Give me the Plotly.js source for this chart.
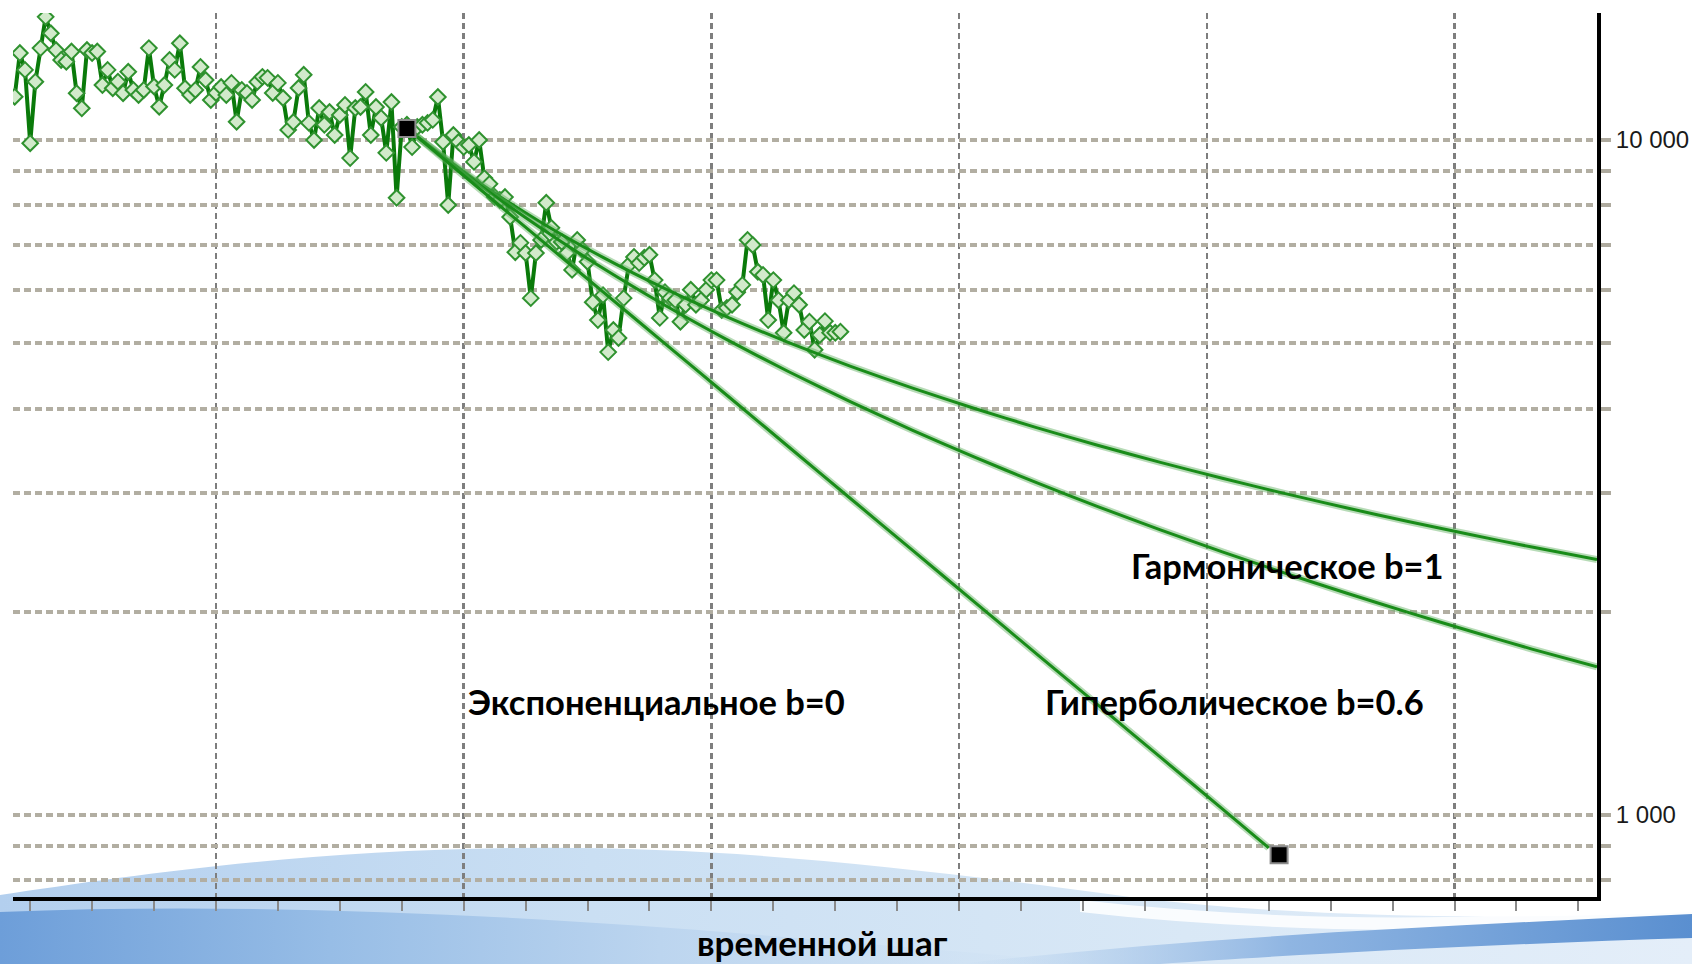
<!DOCTYPE html>
<html>
<head>
<meta charset="utf-8">
<script src="https://cdn.plot.ly/plotly-3.0.1.min.js"></script>
<style>
  html, body { margin: 0; padding: 0; background: #ffffff; }
  #wrap { position: relative; width: 1692px; height: 964px; overflow: hidden; background: #ffffff; }
  #bg { position: absolute; left: 0; top: 0; }
  #chart { position: absolute; left: 0; top: 0; width: 1692px; height: 964px; }
</style>
</head>
<body>
<div id="wrap">
  <!-- decorative slide waves behind the chart -->
  <svg id="bg" width="1692" height="964" viewBox="0 0 1692 964">
    <defs>
      <linearGradient id="crest" x1="0" y1="0" x2="1" y2="0">
        <stop offset="0" stop-color="#b3cfee"/>
        <stop offset="0.35" stop-color="#cadff3"/>
        <stop offset="0.7" stop-color="#d9e8f6"/>
        <stop offset="1" stop-color="#e4eef9"/>
      </linearGradient>
      <linearGradient id="base" x1="0" y1="0" x2="1" y2="0">
        <stop offset="0" stop-color="#6d9ed9"/>
        <stop offset="0.3" stop-color="#97bde6"/>
        <stop offset="0.6" stop-color="#bcd5ef"/>
        <stop offset="1" stop-color="#cfe1f3" stop-opacity="0"/>
      </linearGradient>
      <linearGradient id="band" x1="0" y1="0" x2="1" y2="0">
        <stop offset="0" stop-color="#a9c8ea" stop-opacity="0"/>
        <stop offset="0.45" stop-color="#8fb5e2"/>
        <stop offset="1" stop-color="#5a8fd0"/>
      </linearGradient>
    </defs>
    <path d="M0,895 C130,876 300,850 520,848 C720,846 900,866 1130,897 C1300,918 1500,920 1692,912 L1692,964 L0,964 Z" fill="url(#crest)"/>
    <path d="M0,912 C250,902 520,915 760,935 C900,946 1010,956 1100,964 L0,964 Z" fill="url(#base)"/>
    <path d="M1080,900 C1280,922 1480,924 1692,902 L1692,915 C1480,936 1280,934 1080,912 Z" fill="#ffffff" opacity="0.85"/>
    <path d="M960,964 C1200,936 1450,926 1692,914 L1692,938 C1500,944 1300,954 1160,964 Z" fill="url(#band)"/>
  </svg>
  <div id="chart"></div>
</div>
<script>
// Monthly production rate history (first point is month -3)
const histStartMonth = -3;
const histRate = [
  11590, 13450, 12700, 9890, 12200, 13680, 15220, 14390, 13590, 13140,
  13060, 13520, 11730, 11140, 13590, 13450, 13520, 12060, 12700, 11930,
  12200, 11730, 12620, 11860, 11660, 11860, 13680, 12000, 11200, 12060,
  13140, 12700, 13910, 11930, 11660, 11860, 12830, 12270, 11460, 11740,
  11980, 11660, 12150, 10640, 11860, 11740, 11460, 12190, 12400, 12360,
  11740, 12150, 11540, 10350, 10630, 11940, 12490, 10600, 10000, 11150,
  10530, 11000, 10170, 10890, 11270, 9400, 11150, 11190, 11780, 10170,
  11190, 10780, 9570, 11380, 8210, 10450, 10530, 9760, 10450, 10530,
  10600, 10710, 11580, 9930, 8010, 10170, 9930, 9760, 9830, 9280,
  10000, 8780, 8610, 8230, 8150, 8230, 7690, 6820, 7040, 6800,
  5830, 6800, 7110, 8070, 7410, 7060, 7060, 6800, 6420, 7110,
  6870, 6600, 5750, 5410, 5890, 4850, 5230, 5090, 5830, 6530,
  6710, 6570, 6690, 6760, 6200, 5450, 5950, 5830, 5790, 5380,
  5700, 6000, 5700, 5790, 6000, 6200, 6200, 5600, 5640, 5700,
  5950, 6100, 7110, 6990, 6380, 6310, 5410, 6200, 5790, 5180,
  5790, 5930, 5700, 5230, 5380, 4890, 5140, 5390, 5180, 5180,
  5200
];

// Decline forecasts
const expMonths = [75, 87, 99, 111, 123, 135, 147, 159, 171, 183, 195, 207, 219, 231, 240];
const expRate   = [10110, 8475, 7105, 5956, 4993, 4186, 3509, 2941, 2466, 2067, 1733, 1453, 1218, 1021, 894];

const curveMonths = [75, 87, 99, 111, 123, 135, 147, 159, 171, 183, 195, 207, 219, 231, 243, 255, 267, 279, 291, 303.6];
const hypRate     = [10110, 8587, 7400, 6455, 5690, 5060, 4535, 4092, 3714, 3389, 3107, 2861, 2645, 2454, 2284, 2132, 1996, 1873, 1761, 1658];
const harmRate    = [10110, 8643, 7548, 6700, 6022, 5470, 5010, 4621, 4289, 4001, 3749, 3527, 3330, 3154, 2995, 2852, 2721, 2603, 2494, 2390];

// Start and end of the exponential forecast
const keyMonths = [73, 242];
const keyRate   = [10400, 873];

// Y axis ticks
const yTickVals = [800, 900, 1000, 2000, 3000, 4000, 5000, 6000, 7000, 8000, 9000, 10000];
const yTickText = ['', '', '1 000', '', '', '', '', '', '', '', '', '10 000'];

// Curve labels
const curveLabels = ['Гармоническое b=1', 'Экспоненциальное b=0', 'Гиперболическое b=0.6'];
const xAxisLabel = 'временной шаг';

const histMonths = histRate.map((_, i) => histStartMonth + i);

const curveGreen = '#198c19';
const haloGreen = 'rgba(95,175,95,0.45)';

function curve(x, y) {
  return [
    { x, y, type: 'scatter', mode: 'lines', hoverinfo: 'skip',
      line: { color: haloGreen, width: 7, shape: 'spline', smoothing: 0.6 } },
    { x, y, type: 'scatter', mode: 'lines',
      line: { color: curveGreen, width: 3, shape: 'spline', smoothing: 0.6 } }
  ];
}

const traces = [
  { x: histMonths, y: histRate, type: 'scatter', mode: 'lines+markers', name: 'history',
    line: { color: '#0a7a0a', width: 4 },
    marker: { symbol: 'diamond', size: 12, color: '#d2eacb', line: { color: '#2f922f', width: 2 } } },
  ...curve(curveMonths, harmRate),
  ...curve(curveMonths, hypRate),
  ...curve(expMonths, expRate),
  { x: keyMonths, y: keyRate, type: 'scatter', mode: 'markers',
    marker: { symbol: 'square', size: 17, color: '#000000', line: { color: '#8c8c8c', width: 2 } } }
];

// plot area in page pixels: left 13, right 1597, top 13, bottom 897
const PL = 13, PR = 1597, PT = 13, PB = 897;
const px = v => (v - PL) / (PR - PL);
const py = v => (PB - v) / (PB - PT);

const labelFont = { family: 'Lato, "Open Sans", sans-serif', size: 34.5, color: '#000000' };
const titleFont = { family: 'Lato, "Open Sans", sans-serif', size: 35, color: '#000000' };

const layout = {
  width: 1692,
  height: 964,
  margin: { l: PL, r: 1692 - PR, t: PT, b: 964 - PB, pad: 0 },
  paper_bgcolor: 'rgba(0,0,0,0)',
  plot_bgcolor: 'rgba(0,0,0,0)',
  showlegend: false,
  separators: '. ',
  xaxis: {
    range: [-3.33, 303.6],
    tick0: 36, dtick: 48,
    ticks: 'outside', ticklen: 10, tickwidth: 2, tickcolor: '#8a8a8a',
    showticklabels: false,
    showgrid: true, gridcolor: '#7e7e7e', gridwidth: 2.5, griddash: '6px,4px',
    showline: true, linecolor: '#000000', linewidth: 4,
    zeroline: false,
    minor: { tick0: 0, dtick: 12, ticks: 'outside', ticklen: 10, tickwidth: 2, tickcolor: '#8a8a8a', showgrid: false }
  },
  yaxis: {
    type: 'log',
    side: 'right',
    range: [2.8785, 4.1881],
    tickmode: 'array', tickvals: yTickVals, ticktext: yTickText,
    ticks: 'outside', ticklen: 10, tickwidth: 4, tickcolor: '#aeaa9e',
    showgrid: true, gridcolor: '#b2aea2', gridwidth: 4, griddash: '7px,4px',
    showline: true, linecolor: '#000000', linewidth: 4,
    zeroline: false,
    tickfont: { family: '"Liberation Sans", Arial, sans-serif', size: 24, color: '#1a1a1a' }
  },
  annotations: [
    { text: '<b>' + curveLabels[0] + '</b>', xref: 'paper', yref: 'paper', x: px(1287), y: py(565),
      xanchor: 'center', yanchor: 'middle', showarrow: false, font: labelFont },
    { text: '<b>' + curveLabels[1] + '</b>', xref: 'paper', yref: 'paper', x: px(656), y: py(701),
      xanchor: 'center', yanchor: 'middle', showarrow: false, font: labelFont },
    { text: '<b>' + curveLabels[2] + '</b>', xref: 'paper', yref: 'paper', x: px(1234), y: py(701),
      xanchor: 'center', yanchor: 'middle', showarrow: false, font: labelFont },
    { text: '<b>' + xAxisLabel + '</b>', xref: 'paper', yref: 'paper', x: px(822), y: py(942),
      xanchor: 'center', yanchor: 'middle', showarrow: false, font: titleFont }
  ]
};

Plotly.newPlot('chart', traces, layout, { displayModeBar: false, staticPlot: true });
</script>
</body>
</html>
